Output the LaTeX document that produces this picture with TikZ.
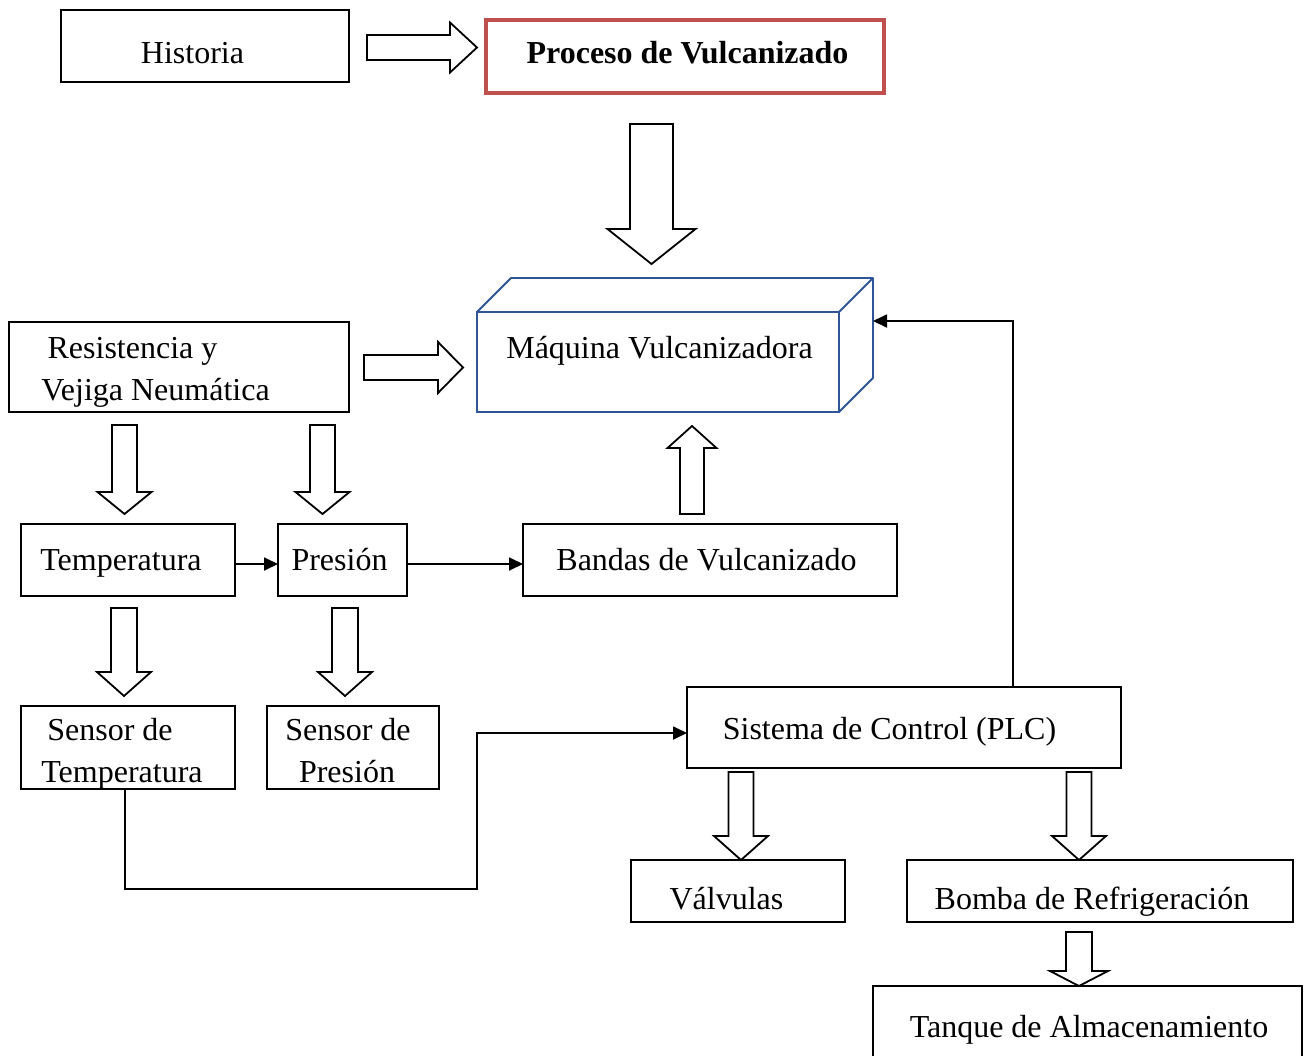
\documentclass[tikz,border=0pt]{standalone}
\usepackage{fontspec}
\setmainfont{Liberation Serif}
\usetikzlibrary{arrows.meta,calc}
\definecolor{redbox}{RGB}{192,80,77}
\definecolor{bluebox}{RGB}{47,85,151}
\tikzset{
  every node/.style={font=\fontsize{32}{38}\selectfont, inner sep=0pt, outer sep=0pt},
  box/.style={draw=black, line width=1.8pt, rectangle},
  redframe/.style={draw=redbox, line width=4pt, rectangle},
  blueframe/.style={draw=bluebox, line width=1.8pt, rectangle},
  txt/.style={anchor=base},
  blockarr/.style={draw=black, fill=white, line width=1.8pt, line join=miter},
  conn/.style={draw=black, line width=1.8pt, -{Triangle[length=14pt,width=13pt]}},
}
\newcommand{\vblockarrow}[6]{% x, y0, y1(tip), half shaft, half head, head length
  \pgfmathsetmacro{\vbbase}{#3-#6*sign(#3-#2)}
  \draw[blockarr] ({#1-#4},#2) -- ({#1-#4},\vbbase) -- ({#1-#5},\vbbase) -- (#1,#3)
     -- ({#1+#5},\vbbase) -- ({#1+#4},\vbbase) -- ({#1+#4},#2) -- cycle;}
\newcommand{\hblockarrow}[6]{% y, x0, x1(tip), half shaft, half head, head length
  \pgfmathsetmacro{\hbbase}{#3-#6*sign(#3-#2)}
  \draw[blockarr] (#2,{#1-#4}) -- (\hbbase,{#1-#4}) -- (\hbbase,{#1-#5}) -- (#3,#1)
     -- (\hbbase,{#1+#5}) -- (\hbbase,{#1+#4}) -- (#2,{#1+#4}) -- cycle;}
\begin{document}
\begin{tikzpicture}[x=1pt,y=-1pt]
\useasboundingbox[fill=white] (0,0) rectangle (1304,1055);

% boxes
\node[box, minimum width=288pt, minimum height=72pt] (hist) at (205,46) {};
\node[redframe, minimum width=398pt, minimum height=73pt] (proc) at (685,56.5) {};
\node[box, minimum width=340pt, minimum height=90pt] (resist) at (179,367) {};
\node[blueframe, minimum width=362pt, minimum height=100pt] (mv) at (658,362) {};
\draw[draw=bluebox, line width=1.8pt, line join=round]
  (mv.north west) -- ++(34,-34) -- ++(362,0) -- ++(0,100) -- (mv.south east)
  (mv.north east) -- ++(34,-34);
\coordinate (mvR) at (873,321);
\node[box, minimum width=214pt, minimum height=72pt] (temp) at (128,560) {};
\node[box, minimum width=129pt, minimum height=72pt] (pres) at (342.5,560) {};
\node[box, minimum width=374pt, minimum height=72pt] (bandas) at (710,560) {};
\node[box, minimum width=214pt, minimum height=83pt] (stemp) at (128,747.5) {};
\node[box, minimum width=172pt, minimum height=83pt] (spres) at (353,747.5) {};
\node[box, minimum width=434pt, minimum height=81pt] (plc) at (904,727.5) {};
\node[box, minimum width=214pt, minimum height=62pt] (valv) at (738,891) {};
\node[box, minimum width=386pt, minimum height=62pt] (bomba) at (1100,891) {};
\node[box, minimum width=429pt, minimum height=94pt] (tanque) at (1087.5,1033) {};

% texts
\node[txt] (thist) at (192.5,63) {Historia};
\node[txt] (tproc) at (687.5,63) {\bfseries Proceso de Vulcanizado};
\node[txt] (tmv) at (659.5,358) {Máquina Vulcanizadora};
\node[txt] (tres1) at (132.5,358) {Resistencia y};
\node[txt] (tres2) at (155.5,400) {Vejiga Neumática};
\node[txt] (ttemp) at (121,570) {Temperatura};
\node[txt] (tpres) at (339.5,570) {Presión};
\node[txt] (tband) at (706.5,570) {Bandas de Vulcanizado};
\node[txt] (tst1) at (110,740) {Sensor de};
\node[txt] (tst2) at (122,782) {Temperatura};
\node[txt] (tsp1) at (348,740) {Sensor de};
\node[txt] (tsp2) at (347,782) {Presión};
\node[txt] (tplc) at (889.5,739) {Sistema de Control (PLC)};
\node[txt] (tvalv) at (726.5,909) {Válvulas};
\node[txt] (tbomba) at (1092,909) {Bomba de Refrigeración};
\node[txt] (ttanque) at (1089,1037) {Tanque de Almacenamiento};

% block arrows
\hblockarrow{47.5}{367}{477}{12.5}{25}{27}
\vblockarrow{651.5}{124}{264}{21.5}{44}{35}
\hblockarrow{367.5}{364}{463}{12.5}{25.5}{25}
\vblockarrow{124.5}{425}{514}{12.5}{27}{22}
\vblockarrow{322.5}{425}{514}{12.5}{27}{22}
\vblockarrow{692}{514}{426}{12}{24.5}{22}
\vblockarrow{124}{608}{696}{13}{27}{24}
\vblockarrow{345}{608}{696}{13}{27}{24}
\vblockarrow{741}{772}{860}{12.5}{27}{24}
\vblockarrow{1079}{772}{860}{12.5}{27}{24}
\vblockarrow{1079}{932}{986}{13}{29}{15}

% connectors
\draw[conn] ([yshift=-4pt]temp.east) -- ([yshift=-4pt]pres.west);
\draw[conn] ([yshift=-4pt]pres.east) -- ([yshift=-4pt]bandas.west);
\coordinate (j1) at (477,889);
\coordinate (j2) at (477,733);
\draw[conn] ([xshift=-3pt]stemp.south) |- (j1) -- (j2) -- (j2 -| plc.west);
\coordinate (j3) at (1013,321);
\draw[conn] (plc.north -| j3) -- (j3) -- (mvR);
\end{tikzpicture}
\end{document}
